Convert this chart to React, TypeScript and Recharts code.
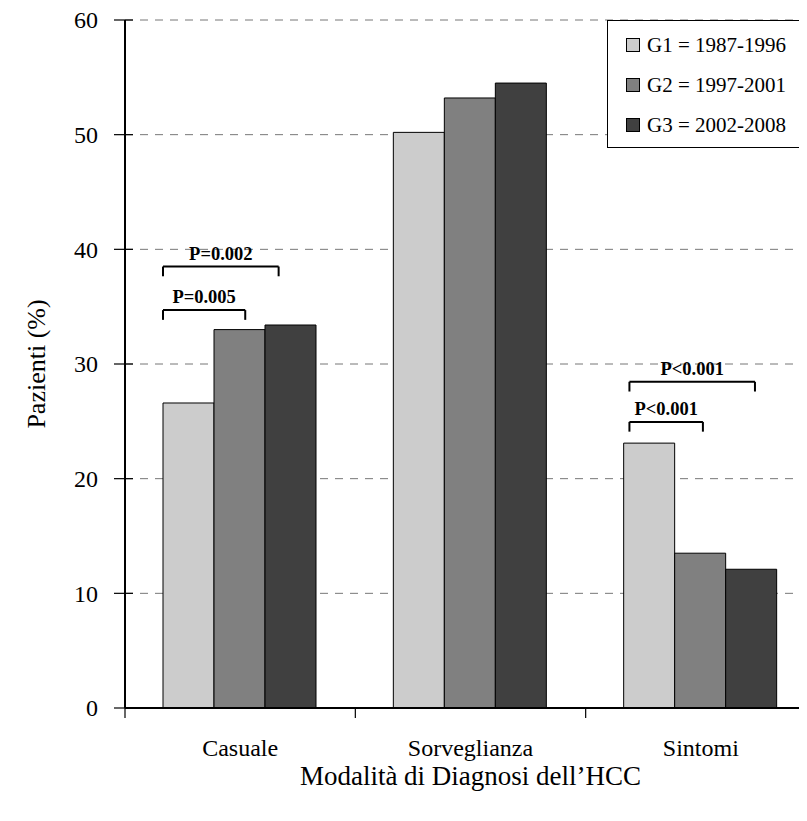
import React from 'react';
import {
  BarChart,
  Bar,
  XAxis,
  YAxis,
  CartesianGrid,
  Legend,
  ReferenceLine,
} from 'recharts';

const categories = ['Casuale', 'Sorveglianza', 'Sintomi'];
const g1Values = [26.6, 50.2, 23.1];
const g2Values = [33.0, 53.2, 13.5];
const g3Values = [33.4, 54.5, 12.1];
const seriesKeys = ['g1', 'g2', 'g3'];
const seriesNames = ['G1 = 1987-1996', 'G2 = 1997-2001', 'G3 = 2002-2008'];
const seriesColors = ['#cccccc', '#808080', '#404040'];
const yTicks = [0, 10, 20, 30, 40, 50, 60];
const xTicks = [0, 0.5, 1, 1.5, 2, 2.5, 3];

// significance brackets (x in category units, y in %)
const bracketStart = [0.165, 0.165, 2.19, 2.19];
const bracketEnd = [0.522, 0.667, 2.509, 2.735];
const bracketTop = [34.7, 38.5, 24.95, 28.45];
const bracketDrop = 0.85;
const bracketLabels = ['P=0.005', 'P=0.002', 'P<0.001', 'P<0.001'];

const yTitle = 'Pazienti (%)';
const xTitle = 'Modalità di Diagnosi dell’HCC';

const FONT = '"Liberation Serif", "Times New Roman", serif';

const data = categories.map((name, i) => ({
  name,
  pos: i + 0.5,
  g1: g1Values[i],
  g2: g2Values[i],
  g3: g3Values[i],
}));

const YTick = (props: any) => {
  const { x, y, payload } = props;
  return (
    <g>
      <line x1={x - 11} x2={x + 8} y1={y} y2={y} stroke="#000" strokeWidth={1.2} />
      <text
        x={x - 27}
        y={y}
        dy="0.35em"
        textAnchor="end"
        fontFamily={FONT}
        fontSize={24}
        fill="#000"
      >
        {payload.value}
      </text>
    </g>
  );
};

const XTick = (props: any) => {
  const { x, y, payload } = props;
  const v = payload.value;
  if (Number.isInteger(v)) {
    return <line x1={x} x2={x} y1={y} y2={y + 10} stroke="#000" strokeWidth={1.2} />;
  }
  return (
    <text x={x} y={y + 48} textAnchor="middle" fontFamily={FONT} fontSize={24} fill="#000">
      {categories[Math.floor(v)]}
    </text>
  );
};

const YLabel = (props: any) => {
  const { viewBox } = props;
  const cx = viewBox.x + 28;
  const cy = viewBox.y + viewBox.height / 2;
  return (
    <text
      x={cx}
      y={cy}
      transform={`rotate(-90, ${cx}, ${cy})`}
      textAnchor="middle"
      dominantBaseline="central"
      fontFamily={FONT}
      fontSize={26}
      fill="#000"
    >
      {yTitle}
    </text>
  );
};

const LegendBox = (props: any) => {
  const { payload } = props;
  return (
    <div
      style={{
        width: 194,
        height: 122,
        border: '1px solid #000',
        background: '#fff',
        boxSizing: 'content-box',
        fontFamily: FONT,
        fontSize: 21,
        paddingTop: 4,
      }}
    >
      {(payload || []).map((p: any) => (
        <div key={p.value} style={{ display: 'flex', alignItems: 'center', height: 40 }}>
          <span
            style={{
              width: 12,
              height: 12,
              marginLeft: 18,
              marginRight: 7,
              background: p.color,
              border: '1px solid #000',
              display: 'inline-block',
            }}
          />
          <span>{p.value}</span>
        </div>
      ))}
    </div>
  );
};

export default function App() {
  return (
    <div style={{ width: 799, height: 813, overflow: 'hidden', position: 'relative' }}>
      <BarChart
        width={830}
        height={813}
        data={data}
        margin={{ top: 12, right: 22, bottom: 0, left: 0 }}
        barCategoryGap="16.5%"
        barGap={0}
      >
        <CartesianGrid
          horizontal
          vertical={false}
          stroke="#777"
          strokeDasharray="8 7"
          horizontalValues={yTicks}
        />
        <XAxis dataKey="name" xAxisId="cat" hide height={0} />
        <XAxis
          xAxisId="num"
          dataKey="pos"
          type="number"
          domain={[0, 3]}
          allowDataOverflow
          ticks={xTicks}
          interval={0}
          height={113}
          tickSize={0}
          tickMargin={0}
          tickLine={false}
          axisLine={{ stroke: '#000', strokeWidth: 2 }}
          tick={<XTick />}
          label={{
            value: xTitle,
            position: 'insideBottom',
            offset: 36,
            fontFamily: FONT,
            fontSize: 27,
            fill: '#000',
          }}
        />
        <YAxis
          width={117}
          domain={[0, 60]}
          ticks={yTicks}
          interval={0}
          tickSize={0}
          tickMargin={0}
          tickLine={false}
          axisLine={{ stroke: '#000', strokeWidth: 2 }}
          tick={<YTick />}
          label={<YLabel />}
        />
        <Legend
          layout="horizontal"
          align="center"
          verticalAlign="middle"
          wrapperStyle={{ top: 12, left: 599, width: 'auto' }}
          content={<LegendBox />}
        />
        {seriesKeys.map((k, i) => (
          <Bar
            key={k}
            dataKey={k}
            name={seriesNames[i]}
            xAxisId="cat"
            fill={seriesColors[i]}
            stroke="#000"
            strokeWidth={1}
            isAnimationActive={false}
          />
        ))}
        {bracketLabels.map((label, i) => (
          <React.Fragment key={`br${i}`}>
            <ReferenceLine
              xAxisId="num"
              segment={[
                { x: bracketStart[i], y: bracketTop[i] },
                { x: bracketEnd[i], y: bracketTop[i] },
              ]}
              stroke="#000"
              strokeWidth={2}
              label={{
                value: label,
                position: 'top',
                offset: 7,
                fontFamily: FONT,
                fontSize: 18.5,
                fontWeight: 'bold',
                fill: '#000',
              }}
            />
            <ReferenceLine
              xAxisId="num"
              segment={[
                { x: bracketStart[i], y: bracketTop[i] },
                { x: bracketStart[i], y: bracketTop[i] - bracketDrop },
              ]}
              stroke="#000"
              strokeWidth={2}
            />
            <ReferenceLine
              xAxisId="num"
              segment={[
                { x: bracketEnd[i], y: bracketTop[i] },
                { x: bracketEnd[i], y: bracketTop[i] - bracketDrop },
              ]}
              stroke="#000"
              strokeWidth={2}
            />
          </React.Fragment>
        ))}
      </BarChart>
    </div>
  );
}
